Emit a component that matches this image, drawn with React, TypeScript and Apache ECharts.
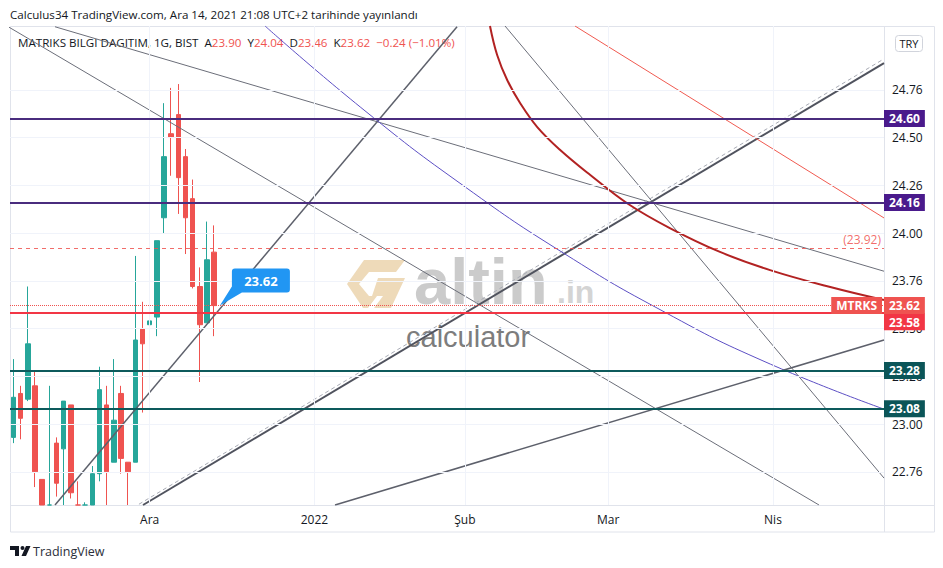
import React, { useEffect, useRef } from "react";
import * as echarts from "echarts";

// ---- trading-day categories (BIST, daily) ----
const NOV_2021 = [4, 5, 8, 9, 10, 11, 12, 15, 16, 17, 18, 19, 22, 23, 24, 25, 26, 29, 30];
const DEC_2021 = [1, 2, 3, 6, 7, 8, 9, 10, 13, 14, 15, 16, 17, 20, 21, 22, 23, 24, 27, 28, 29, 30, 31];
const JAN_2022 = [3, 4, 5, 6, 7, 10, 11, 12, 13, 14, 17, 18, 19, 20, 21, 24, 25, 26, 27, 28, 31];
const FEB_2022 = [1, 2, 3, 4, 7, 8, 9, 10, 11, 14, 15, 16, 17, 18, 21, 22, 23, 24, 25, 28];
const MAR_2022 = [1, 2, 3, 4, 7, 8, 9, 10, 11, 14, 15, 16, 17, 18, 21, 22, 23, 24, 25, 28, 29, 30, 31];
const APR_2022 = [1, 4, 5, 6, 7, 8, 11, 12, 13, 14, 15, 18, 19, 20, 21, 22];

const MONTH_TICK_DATES = ["2021-12-01", "2022-01-03", "2022-02-01", "2022-03-01", "2022-04-01"];
const MONTH_TICK_LABELS = ["Ara", "2022", "Şub", "Mar", "Nis"];

// ---- price axis ----
const Y_MIN = 22.576;
const Y_MAX = 25.084;
const Y_TICKS = [22.75, 23.0, 23.25, 23.5, 23.75, 24.0, 24.25, 24.5, 24.75];
const Y_TICK_LABELS = ["22.76", "23.00", "23.26", "23.50", "23.76", "24.00", "24.26", "24.50", "24.76"];

// ---- candles: Nov 4 .. Dec 14, 2021 ----
const OPEN = [22.93, 23.16, 23.13, 23.2, 22.71, 22.42, 22.9, 22.87, 23.1, 22.55, 22.5, 22.45, 22.74, 23.1, 22.8, 23.16, 22.8, 22.8, 23.5, 23.52, 23.56, 24.08, 24.52, 24.62, 24.4, 24.18, 23.72, 23.53, 23.9];
const CLOSE = [23.14, 23.03, 23.42, 22.75, 22.5, 22.56, 22.69, 23.12, 22.64, 22.45, 22.42, 22.74, 23.18, 22.75, 23.02, 22.82, 22.75, 23.44, 23.42, 23.54, 23.96, 24.4, 24.5, 24.29, 24.08, 23.72, 23.52, 23.86, 23.62];
const LOW = [22.9, 22.92, 23.12, 22.67, 22.45, 22.38, 22.62, 22.5, 22.61, 22.4, 22.38, 22.4, 22.7, 22.55, 22.8, 22.74, 22.55, 22.8, 23.06, 23.24, 23.46, 24.0, 24.3, 24.1, 23.89, 23.71, 23.22, 23.53, 23.46];
const HIGH = [23.34, 23.2, 23.72, 23.28, 22.71, 23.2, 22.93, 23.12, 23.1, 22.7, 22.59, 22.78, 23.3, 23.2, 23.34, 23.2, 22.8, 23.88, 23.64, 23.64, 23.96, 24.68, 24.76, 24.78, 24.44, 24.28, 23.82, 24.06, 24.04];

// ---- horizontal levels ----
const LEVEL_PURPLE = [24.6, 24.16];
const LEVEL_TEAL = [23.28, 23.08];
const LEVEL_DASHED = 23.92;
const LAST_PRICE = 23.62;
const LEVEL_RED = 23.58;

// ---- drawn lines and curves, [bar index, price] ----
const LINE_A = [[-0.92, 25.084], [112.43, 22.576]];
const LINE_B = [[5.78, 25.08], [121.5, 23.8]];
const LINE_C = [[5.78, 22.576], [61.9, 25.08]];
const LINE_D = [[18.07, 22.576], [121.5, 24.89]];
const LINE_D_DASH = [[17.5, 22.58], [121.5, 24.912]];
const CURVE_E = [
  [35.1, 25.084], [49.05, 24.64], [63.01, 24.242], [76.97, 23.89],
  [90.93, 23.585], [104.89, 23.326], [121.5, 23.078],
];
const LINE_F = [[68.6, 25.084], [121.5, 22.717]];
const LINE_H = [[44.87, 22.576], [121.5, 23.44]];
const LINE_R = [[78.37, 25.084], [121.5, 24.079]];
const ARC = [
  [66.5, 25.084], [67.5, 24.932], [68.9, 24.801], [70.7, 24.681], [73.1, 24.555],
  [76.3, 24.435], [80.5, 24.304], [85.8, 24.152], [91.6, 24.026], [98.6, 23.901],
  [105.6, 23.806], [114.0, 23.717], [121.5, 23.649],
];
const CALLOUT_AT = [28.8, 23.62];

const pad = (n: number) => String(n).padStart(2, "0");
const CATEGORIES: string[] = [
  ...NOV_2021.map((d) => `2021-11-${pad(d)}`),
  ...DEC_2021.map((d) => `2021-12-${pad(d)}`),
  ...JAN_2022.map((d) => `2022-01-${pad(d)}`),
  ...FEB_2022.map((d) => `2022-02-${pad(d)}`),
  ...MAR_2022.map((d) => `2022-03-${pad(d)}`),
  ...APR_2022.map((d) => `2022-04-${pad(d)}`),
];

const FONT = '"Open Sans", "Noto Sans", sans-serif';
const TEXT = "#131722";
const UP = "#26a69a";
const DOWN = "#ef5350";
const PURPLE = "#4a2c7e";
const PURPLE_BOX = "#4a1a8c";
const TEAL = "#0d5a5c";
const TEAL_BOX = "#0b5558";

echarts.graphic.registerShape(
  "tvlogo",
  echarts.graphic.extendPath(
    "M0 0 H9 V10 H5 V4 H0 Z M10.5 2 A2 2 0 1 0 14.5 2 A2 2 0 1 0 10.5 2 Z M16 0 H20.5 L16 10 H11.5 Z",
    {}
  )
);
echarts.graphic.registerShape(
  "altinlogo",
  echarts.graphic.extendPath(
    "M17 0 L58 0 L49 12 L22 12 L12 24 L22 36 L30 36 L21 48 L16 48 L0 24 Z M31 18 L58 18 L44 48 L27 48 L36 36 L25 36 Z",
    {}
  )
);

const tickLabel = (v: number) => {
  const i = Y_TICKS.findIndex((t) => Math.abs(t - v) < 1e-6);
  return i >= 0 ? Y_TICK_LABELS[i] : "";
};

// keep candle parts that fall below the visible price range on its bottom edge
const clampY = (v: number) => Math.max(v, Y_MIN);

const axisBox = (text: string, bg: string, extra: any = {}) => ({
  show: true,
  position: "end",
  distance: 0,
  formatter: text,
  backgroundColor: bg,
  color: "#ffffff",
  fontFamily: FONT,
  fontSize: 12,
  fontWeight: "bold",
  padding: [3, 5, 2, 5],
  ...extra,
});

export default function App() {
  const ref = useRef<HTMLDivElement>(null);

  useEffect(() => {
    if (!ref.current) return;
    const chart = echarts.init(ref.current, undefined, { renderer: "svg" });
    const n = CATEGORIES.length;
    const last = OPEN.length - 1;
    const change = CLOSE[last] - CLOSE[last - 1];
    const changePct = (change / CLOSE[last - 1]) * 100;
    const signed = (v: number) => (v < 0 ? "−" : "+") + Math.abs(v).toFixed(2);

    const drawn = (data: number[][], color: string, width: number, type: any = "solid", extra: any = {}) => ({
      type: "line",
      xAxisIndex: 1,
      yAxisIndex: 0,
      data,
      symbol: "none",
      showSymbol: false,
      clip: true,
      silent: true,
      z: 4,
      lineStyle: { color, width, type },
      emphasis: { disabled: true },
      ...extra,
    });

    const option: any = {
      animation: false,
      backgroundColor: "#ffffff",
      grid: { left: 10, right: 59, top: 26, bottom: 63, containLabel: false },
      xAxis: [
        {
          type: "category",
          data: CATEGORIES,
          boundaryGap: true,
          axisLine: { show: false },
          axisTick: { show: false },
          splitLine: { show: false },
          axisLabel: {
            interval: (_i: number, v: string) => MONTH_TICK_DATES.includes(v),
            formatter: (v: string) => {
              const i = MONTH_TICK_DATES.indexOf(v);
              return i >= 0 ? MONTH_TICK_LABELS[i] : "";
            },
            color: TEXT,
            fontFamily: FONT,
            fontSize: 12,
            margin: 8,
          },
        },
        { type: "value", min: -0.5, max: n - 0.5, show: false },
      ],
      yAxis: {
        type: "value",
        position: "right",
        min: Y_MIN,
        max: Y_MAX,
        axisLine: { show: false },
        axisTick: { show: false },
        splitLine: { show: false },
        axisLabel: {
          customValues: Y_TICKS,
          formatter: (v: number) => tickLabel(v),
          color: TEXT,
          fontFamily: FONT,
          fontSize: 12,
          margin: 8,
          align: "left",
        },
      },
      series: [
        {
          type: "line",
          data: [],
          silent: true,
          z: 1,
          markLine: {
            silent: true,
            symbol: ["none", "none"],
            label: { show: false },
            lineStyle: { color: "#f0f3fa", width: 1, type: "solid" },
            emphasis: { disabled: true },
            data: [
              ...Y_TICKS.map((v) => ({ yAxis: v })),
              ...MONTH_TICK_DATES.map((d) => ({ xAxis: d })),
            ],
          },
        },
        {
          type: "candlestick",
          data: OPEN.map((o, i) => [clampY(o), clampY(CLOSE[i]), clampY(LOW[i]), clampY(HIGH[i])]),
          barWidth: 5,
          clip: true,
          silent: true,
          z: 2,
          itemStyle: { color: UP, color0: DOWN, borderColor: UP, borderColor0: DOWN, borderWidth: 1 },
          markLine: {
            silent: true,
            symbol: ["none", "none"],
            emphasis: { disabled: true },
            data: [
              ...LEVEL_PURPLE.map((v) => ({
                yAxis: v,
                lineStyle: { color: PURPLE, width: 2, type: "solid" },
                label: axisBox(v.toFixed(2), PURPLE_BOX),
              })),
              {
                yAxis: LEVEL_DASHED,
                lineStyle: { color: "#ef5350", width: 1, type: [4, 4], opacity: 0.85 },
                label: {
                  show: true,
                  position: "insideEndTop",
                  distance: 3,
                  formatter: `(${LEVEL_DASHED.toFixed(2)})`,
                  color: "#ef5350",
                  fontFamily: FONT,
                  fontSize: 12,
                },
              },
              {
                yAxis: LEVEL_RED,
                lineStyle: { color: "#f23645", width: 2, type: "solid" },
                label: axisBox(LEVEL_RED.toFixed(2), "#f23645", { verticalAlign: "top" }),
              },
              {
                yAxis: LAST_PRICE,
                lineStyle: { color: "rgba(0,0,0,0)", width: 1, type: "solid" },
                label: {
                  show: true,
                  position: "insideEnd",
                  distance: 2,
                  formatter: "MTRKS",
                  backgroundColor: "#ef5350",
                  color: "#ffffff",
                  fontFamily: FONT,
                  fontSize: 12,
                  fontWeight: "bold",
                  padding: [3, 5, 2, 5],
                },
              },
              {
                yAxis: LAST_PRICE,
                lineStyle: { color: "#ef5350", width: 1, type: "dotted" },
                label: axisBox(LAST_PRICE.toFixed(2), "#ef5350"),
              },
              ...LEVEL_TEAL.map((v) => ({
                yAxis: v,
                lineStyle: { color: TEAL, width: 2, type: "solid" },
                label: axisBox(v.toFixed(2), TEAL_BOX),
              })),
            ],
          },
        },
        drawn(LINE_A, "#6b6e79", 1),
        drawn(LINE_B, "#6b6e79", 1),
        drawn(LINE_C, "#5d606b", 1.5, "solid", {
          markPoint: {
            silent: true,
            symbol:
              "path://M15 0 L67 0 Q70 0 70 3 L70 21 Q70 24 67 24 L22 24 L0 37 L12 18 L12 3 Q12 0 15 0 Z",
            symbolSize: [70, 37],
            symbolOffset: [35, -18.5],
            itemStyle: { color: "#2196f3" },
            label: {
              show: true,
              position: "inside",
              offset: [6, -6.5],
              formatter: LAST_PRICE.toFixed(2),
              color: "#ffffff",
              fontFamily: FONT,
              fontSize: 13,
              fontWeight: "bold",
            },
            data: [{ coord: CALLOUT_AT }],
          },
        }),
        drawn(LINE_D_DASH, "#a8abb5", 1, [4, 3]),
        drawn(LINE_D, "#50535e", 2),
        drawn(CURVE_E, "#5c4fc4", 1, "solid", { smooth: 0.5 }),
        drawn(LINE_F, "#6b6e79", 1),
        drawn(LINE_H, "#5d606b", 1.5),
        drawn(LINE_R, "#f05a50", 1),
        drawn(ARC, "#b22222", 2, "solid", { smooth: 0.4 }),
      ],
      graphic: [
        {
          type: "rect",
          silent: true,
          z: -10,
          shape: { x: 10.5, y: 26.5, width: 924, height: 505.5 },
          style: { fill: "none", stroke: "#e0e3eb", lineWidth: 1 },
        },
        {
          type: "line",
          silent: true,
          z: -10,
          shape: { x1: 884.5, y1: 26, x2: 884.5, y2: 532 },
          style: { stroke: "#e0e3eb", lineWidth: 1 },
        },
        {
          type: "line",
          silent: true,
          z: -10,
          shape: { x1: 10, y1: 505.5, x2: 935, y2: 505.5 },
          style: { stroke: "#e0e3eb", lineWidth: 1 },
        },
        // watermark
        {
          type: "altinlogo",
          silent: true,
          z: -5,
          x: 347,
          y: 260,
          style: { fill: "#e2c28a", opacity: 0.6 },
        },
        {
          type: "text",
          silent: true,
          z: -5,
          style: {
            text: "altin",
            x: 414,
            y: 281,
            font: 'bold 65px "Liberation Sans", Arial, sans-serif',
            fill: "#c2c2c2",
            opacity: 0.85,
            align: "left",
            verticalAlign: "middle",
            textAlign: "left",
            textVerticalAlign: "middle",
          },
        },
        {
          type: "text",
          silent: true,
          z: -5,
          style: {
            text: ".in",
            x: 557,
            y: 292,
            font: 'bold 32px "Liberation Sans", Arial, sans-serif',
            fill: "#d4d4d4",
            align: "left",
            verticalAlign: "middle",
            textAlign: "left",
            textVerticalAlign: "middle",
          },
        },
        {
          type: "text",
          silent: true,
          z: -5,
          style: {
            text: "calculator",
            x: 406,
            y: 337,
            font: '29px "Liberation Sans", Arial, sans-serif',
            fill: "#7d7d7d",
            align: "left",
            verticalAlign: "middle",
            textAlign: "left",
            textVerticalAlign: "middle",
          },
        },
        // header
        {
          type: "text",
          silent: true,
          style: {
            text: "Calculus34 TradingView.com, Ara 14, 2021 21:08 UTC+2 tarihinde yayınlandı",
            x: 10,
            y: 14,
            font: `11.6px ${FONT}`,
            fill: TEXT,
            align: "left",
            verticalAlign: "middle",
            textAlign: "left",
            textVerticalAlign: "middle",
          },
        },
        {
          type: "text",
          silent: true,
          style: {
            text:
              `{k|MATRIKS BILGI DAGITIM, 1G, BIST  A}{v|${OPEN[last].toFixed(2)}}` +
              `{k|  Y}{v|${HIGH[last].toFixed(2)}}{k|  D}{v|${LOW[last].toFixed(2)}}` +
              `{k|  K}{v|${CLOSE[last].toFixed(2)}}{v|  ${signed(change)} (${signed(changePct)}%)}`,
            x: 18,
            y: 42,
            font: `11.6px ${FONT}`,
            fill: TEXT,
            align: "left",
            verticalAlign: "middle",
            textAlign: "left",
            textVerticalAlign: "middle",
            rich: {
              k: { fill: TEXT, color: TEXT, fontFamily: FONT, fontSize: 11.6 },
              v: { fill: DOWN, color: DOWN, fontFamily: FONT, fontSize: 11.6 },
            },
          },
        },
        // currency button
        {
          type: "rect",
          silent: true,
          shape: { x: 895.5, y: 35.5, width: 27, height: 16, r: 3 },
          style: { fill: "#ffffff", stroke: "#d1d4dc", lineWidth: 1 },
        },
        {
          type: "text",
          silent: true,
          style: {
            text: "TRY",
            x: 909,
            y: 43.5,
            font: `11px ${FONT}`,
            fill: TEXT,
            align: "center",
            verticalAlign: "middle",
            textAlign: "center",
            textVerticalAlign: "middle",
          },
        },
        // footer
        {
          type: "tvlogo",
          silent: true,
          x: 10,
          y: 546,
          style: { fill: TEXT },
        },
        {
          type: "text",
          silent: true,
          style: {
            text: "TradingView",
            x: 33,
            y: 551,
            font: `12.5px ${FONT}`,
            fill: "#2a2e39",
            align: "left",
            verticalAlign: "middle",
            textAlign: "left",
            textVerticalAlign: "middle",
          },
        },
      ],
    };

    chart.setOption(option);
    return () => chart.dispose();
  }, []);

  return (
    <div
      ref={ref}
      style={{ position: "fixed", left: 0, top: 0, width: 943, height: 568, background: "#ffffff" }}
    />
  );
}
